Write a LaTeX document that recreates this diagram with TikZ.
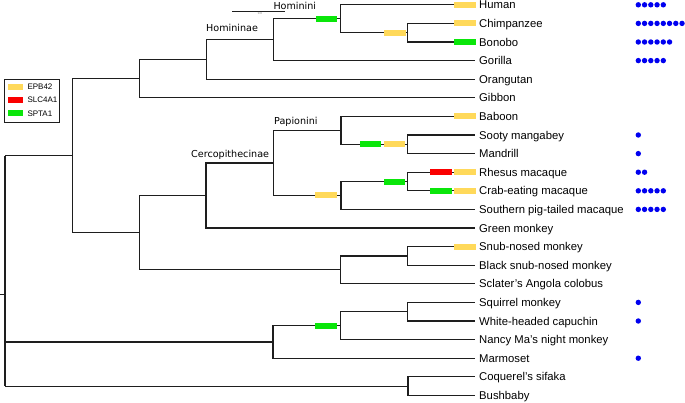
\documentclass[tikz,border=0pt]{standalone}
\usepackage{fontspec}
\setmainfont{Liberation Sans}
\newfontfamily\dejavu{DejaVu Sans}
\definecolor{gyel}{RGB}{255,217,90}
\definecolor{gred}{RGB}{250,0,0}
\definecolor{ggrn}{RGB}{10,230,10}
\definecolor{dotblue}{RGB}{0,0,240}
\definecolor{branchc}{RGB}{30,30,30}
\begin{document}
\begin{tikzpicture}[x=1pt,y=-1pt,
  br/.style={draw=branchc,line width=1.2pt},
  leaf/.style={anchor=west,inner sep=0pt,text height=8.1pt,text depth=0pt,font=\fontsize{11.3}{13}\selectfont},
  clade/.style={anchor=west,inner sep=0pt,text height=7pt,text depth=0pt,font=\dejavu\fontsize{9.6}{11}\selectfont},
  mk/.style={inner sep=0pt,minimum width=21.5pt,minimum height=6pt,draw=none},
  yel/.style={mk,fill=gyel},
  red/.style={mk,fill=gred},
  grn/.style={mk,fill=ggrn},
  dot/.style={fill=dotblue,draw=none},
  legtext/.style={anchor=west,inner sep=0pt,font=\fontsize{8}{9}\selectfont}
]
\useasboundingbox (0,0) rectangle (685,402);
\fill[white] (0,0) rectangle (685,402);

% leaf tips
\foreach \nm/\yy in {human/4.8,chimp/23.4,bonobo/42.0,gorilla/60.6,orang/79.2,gibbon/97.8,
  baboon/116.4,sooty/135.0,mandrill/153.6,rhesus/172.2,crab/190.8,southern/209.4,green/228.0,
  snub/246.6,black/265.2,sclater/283.8,squirrel/302.4,white/321.0,nancy/339.6,marmoset/358.2,
  coquerel/376.8,bushbaby/395.4}
  \coordinate (\nm) at (475,\yy);

% internal nodes
\coordinate (pan) at (407.7,32.7);
\coordinate (hominini) at (340.5,18.75);
\coordinate (homininae) at (273.3,39.7);
\coordinate (hominidae) at (206.7,59.4);
\coordinate (hominoidea) at (139.3,78.6);
\coordinate (soma) at (407.7,144.3);
\coordinate (papionini) at (341,130.35);
\coordinate (rhcr) at (407.7,181.5);
\coordinate (macaca) at (341,195.45);
\coordinate (cercA) at (273.3,162.9);
\coordinate (cercB) at (206,195.45);
\coordinate (snbl) at (407.7,255.9);
\coordinate (colob) at (340.7,269.85);
\coordinate (cercid) at (139.3,232.65);
\coordinate (catarr) at (72.7,155.6);
\coordinate (sqwh) at (407.7,311.7);
\coordinate (cebid) at (340.7,325.65);
\coordinate (platy) at (273,341.9);
\coordinate (strep) at (408,386.1);
\coordinate (root) at (5,294.3);
\coordinate (rootstub) at (0,294.3);

% branches
\draw[br] (pan) |- (chimp) (pan) |- (bonobo);
\draw[br] (hominini) |- (human) (hominini) |- (pan);
\draw[br] (homininae) |- (hominini) (homininae) |- (gorilla);
\draw[br] (hominidae) |- (homininae) (hominidae) |- (orang);
\draw[br] (hominoidea) |- (hominidae) (hominoidea) |- (gibbon);
\draw[br] (soma) |- (sooty) (soma) |- (mandrill);
\draw[br] (papionini) |- (baboon) (papionini) |- (soma);
\draw[br] (rhcr) |- (rhesus) (rhcr) |- (crab);
\draw[br] (macaca) |- (rhcr) (macaca) |- (southern);
\draw[br] (cercA) |- (papionini) (cercA) |- (macaca);
\draw[br] (cercB) |- (cercA) (cercB) |- (green);
\draw[br] (snbl) |- (snub) (snbl) |- (black);
\draw[br] (colob) |- (snbl) (colob) |- (sclater);
\draw[br] (cercid) |- (cercB) (cercid) |- (colob);
\draw[br] (catarr) |- (hominoidea) (catarr) |- (cercid);
\draw[br] (sqwh) |- (squirrel) (sqwh) |- (white);
\draw[br] (cebid) |- (sqwh) (cebid) |- (nancy);
\draw[br] (platy) |- (cebid) (platy) |- (marmoset);
\draw[br] (strep) |- (coquerel) (strep) |- (bushbaby);
\draw[br] (root |- catarr) -- (root |- strep);
\draw[br] (root |- catarr) -- (catarr);
\draw[br] (root |- platy) -- (platy);
\draw[br] (root |- strep) -- (strep);
\draw[br] (rootstub) -- (root);

% substitution markers
\node[grn] (m1) at (326.7,18.75) {};
\node[yel] (m2) at (394.8,32.7) {};
\node[yel] (m3) at (465,4.8) {};
\node[yel] (m4) at (465,23.4) {};
\node[grn] (m5) at (465,42.0) {};
\node[yel] (m6) at (465,116.4) {};
\node[grn] (m7) at (370.3,144.3) {};
\node[yel] (m8) at (394.7,144.3) {};
\node[yel] (m9) at (325.8,195.45) {};
\node[grn] (m10) at (394.7,181.5) {};
\node[red] (m11) at (441,172.2) {};
\node[yel] (m12) at (465,172.2) {};
\node[grn] (m13) at (441,190.8) {};
\node[yel] (m14) at (465,190.8) {};
\node[yel] (m15) at (465,246.6) {};
\node[grn] (m16) at (326,325.65) {};

% leaf labels
\foreach \nm/\txt in {human/Human,chimp/Chimpanzee,bonobo/Bonobo,gorilla/Gorilla,orang/Orangutan,
  gibbon/Gibbon,baboon/Baboon,sooty/Sooty mangabey,mandrill/Mandrill,rhesus/Rhesus macaque,
  crab/Crab-eating macaque,southern/Southern pig-tailed macaque,green/Green monkey,
  snub/Snub-nosed monkey,black/Black snub-nosed monkey,sclater/Sclater's Angola colobus,
  squirrel/Squirrel monkey,white/White-headed capuchin,nancy/Nancy Ma's night monkey,
  marmoset/Marmoset,coquerel/Coquerel's sifaka,bushbaby/Bushbaby}
  \node[leaf] (\nm-l) at ([xshift=4pt]\nm) {\txt};

% clade labels
\node[clade] (l-hominini) at (273.3,5.9) {Hominini};
\node[clade] (l-homininae) at (206,27.9) {Homininae};
\node[clade] (l-papionini) at (274,120.9) {Papionini};
\node[clade] (l-cerco) at (191,154.2) {Cercopithecinae};

% scale bar
\coordinate (sb1) at (232,11);
\coordinate (sb2) at (285,11);
\draw[draw=branchc,line width=0.8pt] (sb1) -- (sb2);
\node[inner sep=0pt,font=\fontsize{3}{3}\selectfont,text=gray] (sbl) at (260,13.6) {0.0};

% dots
\foreach \nm/\n in {human/5,chimp/8,bonobo/6,gorilla/5,sooty/1,mandrill/1,rhesus/2,crab/5,
  southern/5,squirrel/1,white/1,marmoset/1}
  \foreach \k in {1,...,\n}
    \fill[dot] ([xshift={638.3pt-475pt+6.25pt*(\k-1)}]\nm) circle (2.7pt);

% legend
\draw[line width=1pt,draw=branchc] (4.7,79.3) rectangle (59.3,122.7);
\fill[gyel] (8.3,83.7) rectangle (23.3,89.7);
\fill[gred] (8.3,97) rectangle (23.3,103);
\fill[ggrn] (8.3,110.3) rectangle (23.3,116.3);
\node[legtext] (lg1) at (27.3,86.7) {EPB42};
\node[legtext] (lg2) at (27.3,100) {SLC4A1};
\node[legtext] (lg3) at (27.3,113.3) {SPTA1};
\end{tikzpicture}
\end{document}
